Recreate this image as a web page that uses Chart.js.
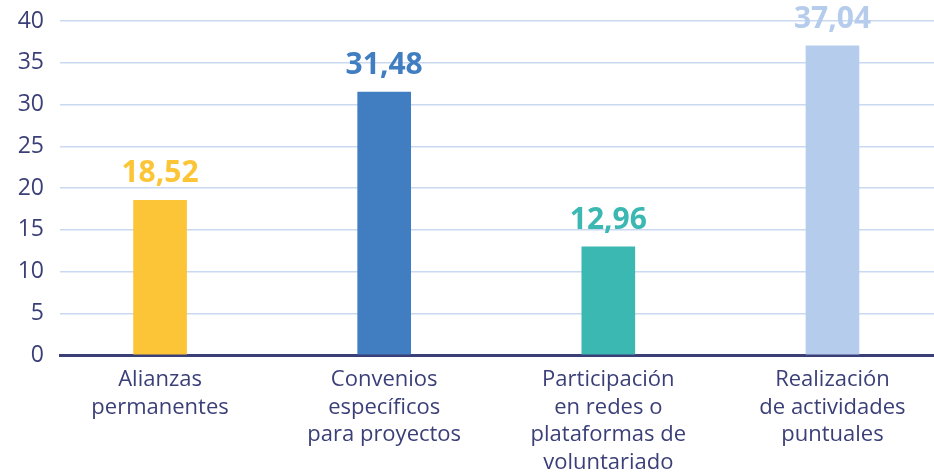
<!DOCTYPE html>
<html>
<head>
<meta charset="utf-8">
<script src="https://cdn.jsdelivr.net/npm/chart.js@4"></script>
<style>
  html, body { margin: 0; padding: 0; background: #fff; }
  #wrap { width: 934px; height: 474px; }
</style>
</head>
<body>
<div id="wrap"><canvas id="plot1" width="934" height="474"></canvas></div>
<script>
const categories = [
    ["Alianzas", "permanentes"],
    ["Convenios", "específicos", "para proyectos"],
    ["Participación", "en redes o", "plataformas de", "voluntariado"],
    ["Realización", "de actividades", "puntuales"]
];
const values = [18.52, 31.48, 12.96, 37.04];
const valueLabels = ["18,52", "31,48", "12,96", "37,04"];
const barColors = ["#fbc537", "#417ec1", "#3bb8b1", "#b6ccec"];
const yTicks = [0, 5, 10, 15, 20, 25, 30, 35, 40];

const navy = "#3b3f78";

const valueLabelPlugin = {
    id: "valueLabels",
    afterDatasetsDraw(chart) {
        const ctx = chart.ctx;
        const meta = chart.getDatasetMeta(0);
        ctx.save();
        ctx.font = "bold 30px 'Open Sans'";
        ctx.textAlign = "center";
        ctx.textBaseline = "alphabetic";
        meta.data.forEach((bar, i) => {
            ctx.fillStyle = barColors[i];
            ctx.fillText(valueLabels[i], bar.x, bar.y - 18);
        });
        ctx.restore();
    }
};

const chart = new Chart(document.getElementById("plot1"), {
    type: "bar",
    data: {
        datasets: [{
            data: values.map((v, i) => ({ x: i, y: v })),
            backgroundColor: barColors,
            barThickness: 53
        }]
    },
    plugins: [valueLabelPlugin],
    options: {
        responsive: false,
        animation: false,
        layout: { padding: { top: 21, right: 0, left: 0, bottom: 0 } },
        plugins: {
            legend: { display: false },
            tooltip: { enabled: false }
        },
        scales: {
            x: {
                type: "linear",
                offset: false,
                min: -0.4464,
                max: 3.453,
                afterBuildTicks: s => { s.ticks = categories.map((c, i) => ({ value: i })); },
                afterFit: s => { s.height = 119; s.paddingLeft = 0; s.paddingRight = 0; },
                grid: { display: false },
                border: { color: navy, width: 3 },
                ticks: {
                    color: navy,
                    padding: 3,
                    autoSkip: false,
                    maxRotation: 0,
                    font: { family: "'Open Sans'", size: 22, lineHeight: 1.25 },
                    callback: v => categories[v]
                }
            },
            y: {
                min: 0,
                max: 40,
                afterBuildTicks: s => { s.ticks = yTicks.map(v => ({ value: v })); },
                afterFit: s => { s.width = 60; s.paddingTop = 0; s.paddingBottom = 0; },
                grid: { color: "#cad9f1", lineWidth: 1.5, drawTicks: false },
                border: { display: false },
                ticks: {
                    color: navy,
                    padding: 16,
                    font: { family: "'Open Sans'", size: 23 }
                }
            }
        }
    }
});
</script>
</body>
</html>
